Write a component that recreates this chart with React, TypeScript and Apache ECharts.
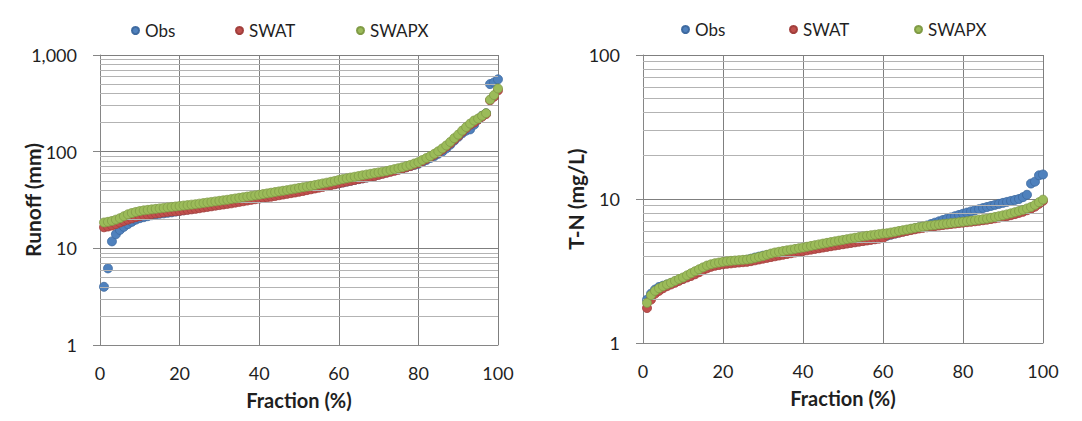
import React, { useEffect, useRef } from "react";
import * as echarts from "echarts";

const fractions = [
  1, 2, 3, 4, 5, 6, 7, 8, 9, 10, 11, 12, 13, 14, 15, 16, 17, 18, 19, 20,
  21, 22, 23, 24, 25, 26, 27, 28, 29, 30, 31, 32, 33, 34, 35, 36, 37, 38, 39, 40,
  41, 42, 43, 44, 45, 46, 47, 48, 49, 50, 51, 52, 53, 54, 55, 56, 57, 58, 59, 60,
  61, 62, 63, 64, 65, 66, 67, 68, 69, 70, 71, 72, 73, 74, 75, 76, 77, 78, 79, 80,
  81, 82, 83, 84, 85, 86, 87, 88, 89, 90, 91, 92, 93, 94, 95, 96, 97, 98, 99, 100,
];

const seriesNames = ["Obs", "SWAT", "SWAPX"];

// Runoff (mm)
const runoffObs = [
  4.0, 6.2, 11.8, 14, 15.5, 16.7, 17.8, 18.8, 19.8, 20.5,
  21, 21.5, 22, 22.4, 22.8, 23, 23.3, 23.6, 24, 24.4,
  24.8, 25.2, 25.6, 26, 26.4, 26.8, 27.2, 27.6, 28, 28.5,
  29, 29.5, 30, 30.6, 31.2, 31.8, 32.4, 33, 33.8, 34.5,
  35.2, 36, 36.6, 37.2, 37.8, 38.4, 39, 39.6, 40.2, 40.8,
  41.4, 42, 42.6, 43.2, 43.8, 44.4, 45, 45.6, 46.2, 47,
  48, 49, 50, 51, 52, 53, 54, 55, 56.5, 58,
  59.5, 61, 62.5, 64, 65.5, 67, 69, 71, 73, 75,
  78, 82, 86, 90, 95, 100, 108, 118, 130, 142,
  155, 165, 170, 190, 215, 235, 250, 500, 520, 560,
];
const runoffSwat = [
  16.5, 16.8, 17.2, 17.8, 18.5, 19.2, 19.8, 20.4, 21, 21.5,
  22, 22.3, 22.6, 22.9, 23.2, 23.5, 23.8, 24, 24.2, 24.4,
  24.7, 25, 25.3, 25.6, 26, 26.4, 26.8, 27.2, 27.6, 28,
  28.4, 28.8, 29.2, 29.7, 30.2, 30.7, 31.2, 31.7, 32.2, 32.7,
  33.2, 33.7, 34.2, 34.8, 35.4, 36, 36.6, 37.2, 37.8, 38.5,
  39.2, 40, 40.8, 41.6, 42.4, 43.2, 44, 45, 46, 47,
  48, 49, 50, 51, 52, 53, 54, 55, 56, 57.5,
  59, 60.5, 62, 63.5, 65, 67, 69, 71, 73.5, 76,
  80, 84, 88, 93, 98, 105, 113, 122, 133, 145,
  160, 175, 190, 200, 215, 230, 245, 340, 370, 430,
];
const runoffSwapx = [
  18.5, 18.8, 19.2, 19.8, 20.5, 21.5, 22.5, 23.2, 23.8, 24.3,
  24.7, 25, 25.3, 25.6, 25.9, 26.2, 26.5, 26.8, 27.1, 27.4,
  27.7, 28, 28.3, 28.6, 29, 29.4, 29.8, 30.2, 30.6, 31,
  31.4, 31.8, 32.3, 32.8, 33.3, 33.8, 34.3, 34.8, 35.3, 35.8,
  36.4, 37, 37.6, 38.2, 38.8, 39.4, 40, 40.7, 41.4, 42.1,
  42.8, 43.5, 44.3, 45.1, 46, 46.9, 47.8, 48.8, 49.8, 51,
  52, 53, 54, 55, 56, 57, 58, 59, 60, 61,
  62, 63, 64.5, 66, 67.5, 69, 71, 73, 75.5, 78,
  82, 86, 90, 95, 101, 108, 116, 126, 138, 150,
  165, 180, 195, 210, 220, 235, 250, 345, 385, 450,
];

// T-N (mg/L)
const tnObs = [
  2.0, 2.2, 2.35, 2.45, 2.5, 2.55, 2.6, 2.67, 2.73, 2.8,
  2.9, 3.0, 3.1, 3.2, 3.3, 3.4, 3.45, 3.5, 3.55, 3.6,
  3.62, 3.65, 3.68, 3.7, 3.72, 3.78, 3.85, 3.92, 3.98, 4.04,
  4.08, 4.12, 4.16, 4.2, 4.25, 4.3, 4.35, 4.4, 4.44, 4.48,
  4.52, 4.56, 4.6, 4.64, 4.68, 4.72, 4.76, 4.8, 4.85, 4.9,
  4.95, 5.0, 5.05, 5.1, 5.15, 5.2, 5.25, 5.3, 5.38, 5.46,
  5.55, 5.65, 5.75, 5.85, 5.95, 6.05, 6.15, 6.25, 6.35, 6.45,
  6.55, 6.7, 6.85, 7.0, 7.15, 7.3, 7.45, 7.6, 7.75, 7.9,
  8.05, 8.2, 8.35, 8.5, 8.65, 8.8, 8.95, 9.1, 9.25, 9.4,
  9.55, 9.7, 9.85, 10.0, 10.3, 10.7, 12.8, 13.2, 14.6, 14.8,
];
const tnSwat = [
  1.75, 2.0, 2.2, 2.3, 2.4, 2.48, 2.55, 2.62, 2.7, 2.78,
  2.85, 2.92, 3.0, 3.1, 3.2, 3.3, 3.38, 3.44, 3.48, 3.52,
  3.55, 3.57, 3.6, 3.62, 3.64, 3.66, 3.7, 3.75, 3.8, 3.85,
  3.9, 3.95, 4.0, 4.05, 4.1, 4.15, 4.2, 4.25, 4.3, 4.35,
  4.4, 4.45, 4.5, 4.55, 4.6, 4.65, 4.7, 4.75, 4.8, 4.85,
  4.9, 4.95, 5.0, 5.05, 5.1, 5.15, 5.2, 5.25, 5.3, 5.35,
  5.6, 5.68, 5.76, 5.84, 5.92, 6.0, 6.08, 6.16, 6.24, 6.3,
  6.36, 6.42, 6.48, 6.54, 6.6, 6.65, 6.7, 6.75, 6.8, 6.85,
  6.9, 6.95, 7.0, 7.06, 7.12, 7.18, 7.26, 7.34, 7.42, 7.5,
  7.6, 7.72, 7.85, 8.0, 8.15, 8.35, 8.55, 8.85, 9.25, 9.7,
];
const tnSwapx = [
  1.9, 2.15, 2.3, 2.4, 2.48, 2.55, 2.62, 2.7, 2.78, 2.85,
  2.95, 3.05, 3.15, 3.25, 3.35, 3.45, 3.52, 3.58, 3.62, 3.66,
  3.69, 3.72, 3.74, 3.76, 3.78, 3.8, 3.84, 3.9, 3.96, 4.02,
  4.1, 4.18, 4.25, 4.3, 4.35, 4.4, 4.45, 4.5, 4.55, 4.6,
  4.66, 4.72, 4.78, 4.84, 4.9, 4.96, 5.02, 5.08, 5.14, 5.2,
  5.26, 5.32, 5.38, 5.44, 5.5, 5.55, 5.6, 5.65, 5.7, 5.75,
  5.78, 5.85, 5.92, 6.0, 6.07, 6.14, 6.22, 6.3, 6.37, 6.44,
  6.5, 6.55, 6.6, 6.65, 6.7, 6.75, 6.8, 6.85, 6.9, 6.95,
  7.0, 7.06, 7.12, 7.18, 7.24, 7.3, 7.4, 7.5, 7.6, 7.7,
  7.82, 7.95, 8.1, 8.25, 8.4, 8.6, 8.8, 9.1, 9.5, 9.9,
];

const runoffMinorLines = [2, 3, 4, 5, 6, 7, 8, 9, 20, 30, 40, 50, 60, 70, 80, 90, 200, 300, 400, 500, 600, 700, 800, 900];
const tnMinorLines = [2, 3, 4, 5, 6, 7, 8, 9, 20, 30, 40, 50, 60, 70, 80, 90];

const COLORS = ["#4F81BD", "#C0504D", "#9BBB59"];
const BORDERS = ["#3E6AA0", "#A23F3C", "#809B46"];
const FONT = "Lato, 'Open Sans', sans-serif";
const TEXT = "#1f1f1f";
const AXIS_GREY = "#868686";
const MAJOR_GREY = "#7F7F7F";
const MINOR_GREY = "#B3B3B3";

function zip(xs: number[], ys: number[]) {
  return xs.map((x, i) => [x, ys[i]]);
}

export default function App() {
  const ref = useRef<HTMLDivElement>(null);

  useEffect(() => {
    if (!ref.current) return;
    const chart = echarts.init(ref.current, undefined, { renderer: "svg" });

    const grids = [
      { left: 100, top: 55, width: 398, height: 290 },
      { left: 643, top: 55, width: 400, height: 288 },
    ];

    const xAxisBase = (gridIndex: number) => ({
      type: "value",
      gridIndex,
      min: 0,
      max: 100,
      interval: 20,
      name: "Fraction (%)",
      nameLocation: "middle",
      nameGap: 45,
      nameMoveOverlap: false,
      nameTextStyle: { fontFamily: FONT, fontSize: 20, fontWeight: "bold", color: TEXT },
      axisLine: { show: true, lineStyle: { color: AXIS_GREY, width: 1 } },
      axisTick: { show: false },
      axisLabel: { margin: 19, fontFamily: FONT, fontSize: 18, color: TEXT },
      splitLine: { show: true, lineStyle: { color: MAJOR_GREY, width: 1 } },
    });

    const yAxisBase = (gridIndex: number, name: string, max: number) => ({
      type: "log",
      logBase: 10,
      gridIndex,
      min: 1,
      max,
      name,
      nameLocation: "middle",
      nameGap: 57,
      nameMoveOverlap: false,
      nameTextStyle: { fontFamily: FONT, fontSize: 21, fontWeight: "bold", color: TEXT },
      axisLine: { show: true, lineStyle: { color: AXIS_GREY, width: 1 } },
      axisTick: { show: true, length: 7, lineStyle: { color: AXIS_GREY } },
      axisLabel: {
        margin: 23,
        fontFamily: FONT,
        fontSize: 18,
        color: TEXT,
        formatter: (v: number) => Math.round(v).toLocaleString("en-US"),
      },
      splitLine: { show: true, lineStyle: { color: MAJOR_GREY, width: 1 } },
    });

    const scatter = (name: string, idx: number, data: number[][], axisIndex: number) => ({
      type: "scatter",
      name,
      xAxisIndex: axisIndex,
      yAxisIndex: axisIndex,
      data,
      symbol: "circle",
      symbolSize: 9,
      clip: false,
      z: 3 + idx,
      itemStyle: { color: COLORS[idx], borderColor: BORDERS[idx], borderWidth: 0.8, opacity: 1 },
    });

    const minorSeries = (axisIndex: number, values: number[]) => ({
      type: "line",
      xAxisIndex: axisIndex,
      yAxisIndex: axisIndex,
      data: [],
      z: 1,
      silent: true,
      markLine: {
        silent: true,
        symbol: ["none", "none"],
        label: { show: false },
        lineStyle: { color: MINOR_GREY, width: 1, type: "solid" },
        data: values.map((v) => ({ yAxis: v })),
      },
    });

    const legendItem = (name: string, left: number, top: number) => ({
      data: [name],
      left,
      top,
      padding: 0,
      icon: "circle",
      itemWidth: 7,
      itemHeight: 7,
      selectedMode: false,
      textStyle: { fontFamily: FONT, fontSize: 17, color: TEXT, padding: [0, 0, 0, 1] },
    });

    const runoffSets = [runoffObs, runoffSwat, runoffSwapx];
    const tnSets = [tnObs, tnSwat, tnSwapx];

    const option = {
      animation: false,
      backgroundColor: "#ffffff",
      grid: grids,
      legend: [
        legendItem(seriesNames[0], 131, 22),
        legendItem(seriesNames[1], 235, 22),
        legendItem(seriesNames[2], 356, 22),
        legendItem(seriesNames[0], 681, 21),
        legendItem(seriesNames[1], 789, 21),
        legendItem(seriesNames[2], 914, 21),
      ],
      xAxis: [xAxisBase(0), xAxisBase(1)],
      yAxis: [yAxisBase(0, "Runoff (mm)", 1000), yAxisBase(1, "T-N (mg/L)", 100)],
      series: [
        minorSeries(0, runoffMinorLines),
        minorSeries(1, tnMinorLines),
        ...seriesNames.map((n, i) => scatter(n, i, zip(fractions, runoffSets[i]), 0)),
        ...seriesNames.map((n, i) => scatter(n, i, zip(fractions, tnSets[i]), 1)),
      ],
    };

    chart.setOption(option as any);
    return () => chart.dispose();
  }, []);

  return (
    <div
      ref={ref}
      style={{ position: "fixed", left: 0, top: 0, width: 1082, height: 421, background: "#fff" }}
    />
  );
}
